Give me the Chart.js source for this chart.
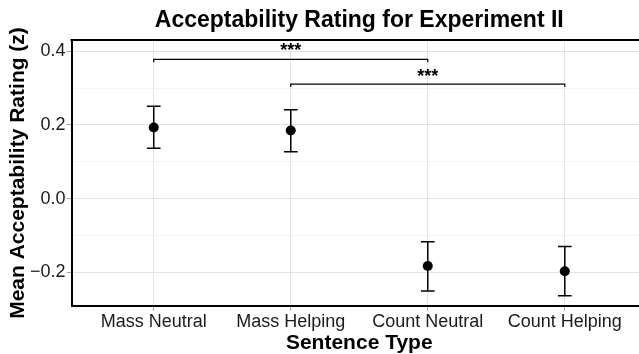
<!DOCTYPE html>
<html>
<head>
<meta charset="utf-8">
<title>Acceptability Rating for Experiment II</title>
<script src="https://cdn.jsdelivr.net/npm/chart.js@4.4.1/dist/chart.umd.min.js"></script>
<style>
  html, body { margin: 0; padding: 0; background: #ffffff; overflow: hidden; }
  #viewport { width: 639px; height: 354px; overflow: hidden; }
  /* the plot panel runs a little past the right edge of the picture */
  #chart-wrap { position: relative; width: 652px; height: 354px; }
</style>
</head>
<body>
<div id="viewport"><div id="chart-wrap"><canvas id="chart"></canvas></div></div>
<script>
const categories = ['Mass Neutral', 'Mass Helping', 'Count Neutral', 'Count Helping'];
const means = [0.193, 0.185, -0.183, -0.197];
const errLow = [0.137, 0.127, -0.251, -0.264];
const errHigh = [0.251, 0.241, -0.117, -0.130];

const yTicks = [-0.2, -0.1, 0, 0.1, 0.2, 0.3, 0.4];
const yLabelled = [-0.2, 0, 0.2, 0.4];

// significance brackets, x in category positions (1-based)
const bracketFrom = [1, 2];
const bracketTo = [3, 4];
const bracketY = [0.378, 0.311];
const bracketLabels = ['***', '***'];
const bracketLabelY = [0.386, 0.318];

const FONT = "'Liberation Sans', Arial, Helvetica, sans-serif";
const CAP_WIDTH = 0.1;
const BRACKET_DROP = 0.008;

function isMajor(value) {
  return yLabelled.includes(value);
}

function formatTick(value) {
  const text = Math.abs(value).toFixed(1);
  return value < 0 ? `\u2212${text}` : text;
}

const decorPlugin = {
  id: 'decor',
  beforeDatasetsDraw(chart) {
    const { ctx, scales } = chart;
    const x = scales.x;
    const y = scales.y;

    ctx.save();
    ctx.strokeStyle = '#000000';
    ctx.lineWidth = 1.5;
    categories.forEach((name, i) => {
      const cx = x.getPixelForValue(i + 1);
      const left = x.getPixelForValue(i + 1 - CAP_WIDTH / 2);
      const right = x.getPixelForValue(i + 1 + CAP_WIDTH / 2);
      const top = y.getPixelForValue(errHigh[i]);
      const bottom = y.getPixelForValue(errLow[i]);
      ctx.beginPath();
      ctx.moveTo(cx, top);
      ctx.lineTo(cx, bottom);
      ctx.moveTo(left, top);
      ctx.lineTo(right, top);
      ctx.moveTo(left, bottom);
      ctx.lineTo(right, bottom);
      ctx.stroke();
    });
    ctx.restore();
  },
  afterDraw(chart) {
    const { ctx, scales, chartArea } = chart;
    const x = scales.x;
    const y = scales.y;

    ctx.save();

    // brackets
    ctx.strokeStyle = '#000000';
    ctx.lineWidth = 1.2;
    bracketFrom.forEach((from, i) => {
      const x1 = x.getPixelForValue(from);
      const x2 = x.getPixelForValue(bracketTo[i]);
      const yy = y.getPixelForValue(bracketY[i]);
      const yDrop = y.getPixelForValue(bracketY[i] - BRACKET_DROP);
      ctx.beginPath();
      ctx.moveTo(x1, yDrop);
      ctx.lineTo(x1, yy);
      ctx.lineTo(x2, yy);
      ctx.lineTo(x2, yDrop);
      ctx.stroke();

      ctx.fillStyle = '#000000';
      ctx.font = `bold 18px ${FONT}`;
      ctx.textAlign = 'center';
      ctx.textBaseline = 'alphabetic';
      ctx.fillText(bracketLabels[i], (x1 + x2) / 2, y.getPixelForValue(bracketLabelY[i]));
    });

    // top panel border
    ctx.strokeStyle = '#000000';
    ctx.lineWidth = 2;
    ctx.beginPath();
    ctx.moveTo(chartArea.left - 1, chartArea.top);
    ctx.lineTo(chart.width, chartArea.top);
    ctx.stroke();

    // title, centred on the panel
    ctx.fillStyle = '#000000';
    ctx.font = `bold 23px ${FONT}`;
    ctx.textAlign = 'center';
    ctx.textBaseline = 'alphabetic';
    ctx.fillText('Acceptability Rating for Experiment II', x.getPixelForValue(2.5), 27);

    ctx.restore();
  },
};

const chart = new Chart(document.getElementById('chart'), {
  type: 'scatter',
  data: {
    datasets: [{
      data: categories.map((name, i) => ({ x: i + 1, y: means[i] })),
      backgroundColor: '#000000',
      borderWidth: 0,
      pointRadius: 5,
      pointHoverRadius: 5,
    }],
  },
  options: {
    responsive: true,
    maintainAspectRatio: false,
    animation: false,
    layout: { padding: { top: 40, right: 0, left: 8, bottom: 0 } },
    plugins: {
      legend: { display: false },
      tooltip: { enabled: false },
    },
    scales: {
      x: {
        type: 'linear',
        min: 0.4,
        max: 4.6,
        afterBuildTicks: (scale) => {
          scale.ticks = categories.map((name, i) => ({ value: i + 1 }));
        },
        ticks: {
          callback: (value) => categories[value - 1] || '',
          font: { family: FONT, size: 18, lineHeight: 1 },
          color: '#1a1a1a',
          padding: 2,
          maxRotation: 0,
          autoSkip: false,
        },
        grid: { color: '#e4e4e4', tickColor: '#aaaaaa', tickLength: 5 },
        border: { display: true, color: '#000000', width: 2 },
        title: {
          display: true,
          text: 'Sentence Type',
          font: { family: FONT, size: 21, weight: 'bold', lineHeight: 1 },
          color: '#000000',
          padding: { top: 0, bottom: 0 },
        },
      },
      y: {
        min: -0.2916,
        max: 0.4307,
        afterBuildTicks: (scale) => {
          scale.ticks = yTicks.map((value) => ({ value }));
        },
        ticks: {
          callback: (value) => (isMajor(value) ? formatTick(value) : ''),
          font: { family: FONT, size: 18 },
          color: '#1a1a1a',
          padding: 1,
        },
        grid: {
          color: (ctx) => (ctx.tick && isMajor(ctx.tick.value) ? '#e4e4e4' : '#f3f3f3'),
          tickColor: (ctx) => (ctx.tick && isMajor(ctx.tick.value) ? '#aaaaaa' : 'rgba(0,0,0,0)'),
          tickLength: 5,
        },
        border: { display: true, color: '#000000', width: 2 },
        title: {
          display: true,
          text: 'Mean Acceptability Rating (z)',
          font: { family: FONT, size: 21, weight: 'bold', lineHeight: 1 },
          color: '#000000',
          padding: { top: 0, bottom: 0 },
        },
      },
    },
  },
  plugins: [decorPlugin],
});
</script>
</body>
</html>
